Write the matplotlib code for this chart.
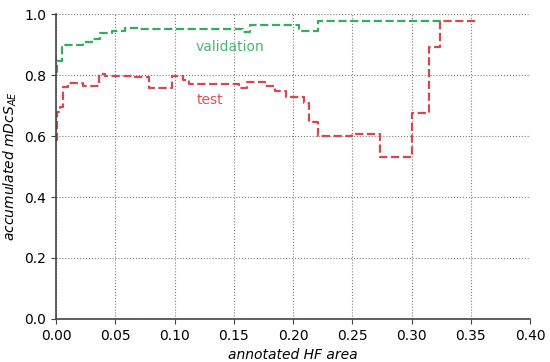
import numpy as np
import matplotlib
matplotlib.use("Agg")
import matplotlib.pyplot as plt

# validation curve (step, post)
val_x = [0.000, 0.001, 0.005, 0.023, 0.030, 0.037, 0.047, 0.058, 0.070,
         0.158, 0.164, 0.205, 0.221, 0.325]
val_y = [0.811, 0.846, 0.898, 0.909, 0.920, 0.937, 0.945, 0.955, 0.952,
         0.940, 0.964, 0.945, 0.978, 0.978]

# test curve (step, post)
test_x = [0.000, 0.001, 0.003, 0.006, 0.010, 0.023, 0.036, 0.041, 0.064,
          0.078, 0.098, 0.107, 0.112, 0.154, 0.161, 0.176, 0.185, 0.194,
          0.209, 0.213, 0.221, 0.250, 0.273, 0.300, 0.315, 0.324, 0.354]
test_y = [0.587, 0.680, 0.695, 0.760, 0.775, 0.764, 0.803, 0.797, 0.793,
          0.756, 0.797, 0.784, 0.770, 0.757, 0.778, 0.764, 0.749, 0.727,
          0.709, 0.647, 0.600, 0.606, 0.530, 0.676, 0.893, 0.978, 0.978]

green = "#33ad66"
red = "#d6484f"

fig = plt.figure(figsize=(5.5, 3.62), dpi=100)
ax = fig.add_axes([0.102, 0.119, 0.862, 0.842])

ax.step(val_x, val_y, where="post", color=green, linestyle="--", linewidth=1.6)
ax.step(test_x, test_y, where="post", color=red, linestyle="--", linewidth=1.6)

ax.text(0.147, 0.892, "validation", color="#45b875", fontsize=10,
        ha="center", va="center")
ax.text(0.130, 0.718, "test", color="#d9545a", fontsize=10,
        ha="center", va="center")

ax.set_xlim(0, 0.40)
ax.set_ylim(0, 1.0)
ax.set_xticks(np.arange(0, 0.401, 0.05))
ax.set_yticks(np.arange(0, 1.01, 0.2))
ax.xaxis.set_major_formatter(matplotlib.ticker.FormatStrFormatter("%.2f"))
ax.yaxis.set_major_formatter(matplotlib.ticker.FormatStrFormatter("%.1f"))

ax.grid(True, linestyle=":", color="gray", linewidth=0.8)
ax.set_axisbelow(True)
for s in ["top", "right"]:
    ax.spines[s].set_visible(False)
for s in ["left", "bottom"]:
    ax.spines[s].set_color("#444444")
    ax.spines[s].set_linewidth(1.2)
ax.tick_params(axis="both", labelsize=10, color="#444444")

ax.set_xlabel("annotated HF area", style="italic", fontsize=10)
ax.set_ylabel("accumulated $mDcS_{AE}$", style="italic", fontsize=10)

fig.savefig("out.png", dpi=100)
